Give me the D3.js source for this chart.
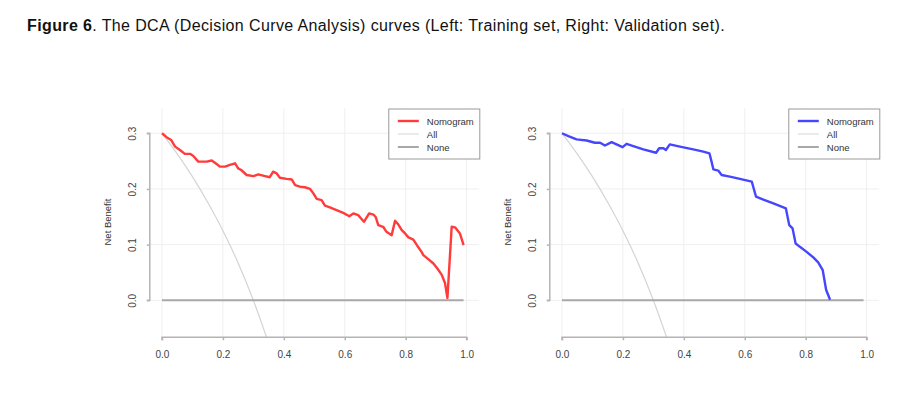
<!DOCTYPE html>
<html>
<head>
<meta charset="utf-8">
<script src="https://cdn.jsdelivr.net/npm/d3@7"></script>
<style>
	body { margin: 0; background: #fff; }
	svg { display: block; font-family: 'Liberation Sans', Arial, sans-serif; }
</style>
</head>
<body>
<svg id="chart" width="920" height="394"></svg>
<script>
// threshold probability / net benefit
const trainX = [0, 0.015, 0.03, 0.043, 0.059, 0.075, 0.092, 0.103, 0.119, 0.136, 0.147, 0.163, 0.174, 0.19, 0.207,
	0.223, 0.24, 0.25, 0.26, 0.278, 0.3, 0.316, 0.338, 0.354, 0.365, 0.376, 0.387, 0.409, 0.426, 0.437, 0.453,
	0.469, 0.486, 0.497, 0.508, 0.524, 0.535, 0.551, 0.573, 0.595, 0.615, 0.628, 0.644, 0.655, 0.663, 0.67,
	0.68, 0.694, 0.702, 0.71, 0.726, 0.737, 0.754, 0.765, 0.776, 0.787, 0.798, 0.809, 0.825, 0.838, 0.852,
	0.858, 0.874, 0.891, 0.904, 0.918, 0.929, 0.937, 0.951, 0.962, 0.978, 0.99];
const trainNB = [0.300, 0.293, 0.288, 0.276, 0.270, 0.263, 0.263, 0.259, 0.249, 0.249, 0.249, 0.251, 0.247, 0.240, 0.240,
	0.243, 0.246, 0.237, 0.234, 0.225, 0.223, 0.226, 0.223, 0.221, 0.231, 0.228, 0.220, 0.218, 0.217, 0.207, 0.204,
	0.203, 0.200, 0.192, 0.182, 0.180, 0.170, 0.167, 0.162, 0.157, 0.151, 0.156, 0.153, 0.146, 0.141, 0.147,
	0.156, 0.154, 0.149, 0.135, 0.132, 0.123, 0.117, 0.143, 0.136, 0.126, 0.120, 0.113, 0.109, 0.098, 0.087,
	0.081, 0.074, 0.066, 0.057, 0.046, 0.031, 0.004, 0.132, 0.131, 0.120, 0.099];

const validX = [0, 0.021, 0.048, 0.081, 0.108, 0.125, 0.141, 0.163, 0.179, 0.199, 0.212, 0.234, 0.267, 0.309, 0.319,
	0.333, 0.341, 0.354, 0.387, 0.431, 0.464, 0.484, 0.491, 0.497, 0.513, 0.524, 0.551, 0.584, 0.623, 0.637,
	0.661, 0.694, 0.735, 0.746, 0.757, 0.767, 0.781, 0.803, 0.825, 0.841, 0.856, 0.867, 0.88];
const validNB = [0.300, 0.295, 0.289, 0.287, 0.283, 0.283, 0.278, 0.284, 0.280, 0.275, 0.281, 0.277, 0.271, 0.265, 0.273,
	0.273, 0.270, 0.280, 0.276, 0.271, 0.267, 0.264, 0.249, 0.235, 0.233, 0.225, 0.222, 0.218, 0.213, 0.186,
	0.181, 0.174, 0.165, 0.135, 0.129, 0.102, 0.096, 0.087, 0.077, 0.068, 0.054, 0.019, 0.001];

// "treat all" reference curve (same in both panels)
const allX = [0, 0.05, 0.1, 0.15, 0.2, 0.25, 0.3, 0.35];
const allNB = [0.300, 0.263, 0.222, 0.176, 0.125, 0.067, 0.000, -0.077];

const noneX = [0, 0.99];
const noneNB = [0, 0];

const xTicks = [0, 0.2, 0.4, 0.6, 0.8, 1.0];
const yTicks = [0, 0.1, 0.2, 0.3];
const legendLabels = ['Nomogram', 'All', 'None'];

const panels = [
	{id: 'train', left: 149.8, x: trainX, y: trainNB, color: '#ff3b3b'},
	{id: 'valid', left: 549.8, x: validX, y: validNB, color: '#4646ff'}
];

const svg = d3.select('#chart');

svg.append('text')
	.attr('x', 27)
	.attr('y', 31)
	.style('font-size', '16px')
	.style('letter-spacing', '0.38px')
	.style('fill', '#111')
	.call(t => t.append('tspan').style('font-weight', 'bold').text('Figure 6'))
	.call(t => t.append('tspan').text('. The DCA (Decision Curve Analysis) curves (Left: Training set, Right: Validation set).'));

const toPairs = (xs, ys) => xs.map((v, i) => [v, ys[i]]);

panels.forEach(p => {
	const x = d3.scaleLinear().domain([-0.04, 1.04]).range([p.left, p.left + 329]),
		y = d3.scaleLinear().domain([-0.0665, 0.345]).range([337.3, 108.2]),
		g = svg.append('g'),
		line = d3.line().x(d => x(d[0])).y(d => y(d[1]));

	g.append('clipPath').attr('id', 'clip-' + p.id)
		.append('rect')
		.attr('x', x(-0.04)).attr('y', y(0.345))
		.attr('width', x(1.04) - x(-0.04)).attr('height', y(-0.0665) - y(0.345));

	// grid
	g.append('g').selectAll('line').data(xTicks).enter().append('line')
		.attr('x1', d => x(d)).attr('x2', d => x(d))
		.attr('y1', y(0.345)).attr('y2', y(-0.0665))
		.style('stroke', '#efefef');
	g.append('g').selectAll('line').data(yTicks).enter().append('line')
		.attr('x1', x(-0.04)).attr('x2', x(1.04))
		.attr('y1', d => y(d)).attr('y2', d => y(d))
		.style('stroke', '#efefef');

	const plot = g.append('g').attr('clip-path', `url(#clip-${p.id})`);

	plot.append('path').datum(toPairs(allX, allNB))
		.attr('d', line.curve(d3.curveMonotoneX))
		.style('fill', 'none').style('stroke', '#d4d4d4').style('stroke-width', 1.2);

	plot.append('path').datum(toPairs(noneX, noneNB))
		.attr('d', line.curve(d3.curveLinear))
		.style('fill', 'none').style('stroke', '#a8a8a8').style('stroke-width', 2);

	plot.append('path').datum(toPairs(p.x, p.y))
		.attr('d', line.curve(d3.curveLinear))
		.style('fill', 'none').style('stroke', p.color).style('stroke-width', 2.4)
		.style('stroke-linejoin', 'round');

	// axes
	const xAxis = g.append('g')
		.attr('transform', `translate(0,${y(-0.0665)})`)
		.call(d3.axisBottom(x).tickValues(xTicks).tickFormat(d3.format('.1f')).tickSizeOuter(0).tickSize(3).tickPadding(11));
	xAxis.select('.domain').attr('d', `M${x(0)},3V0H${x(1)}V3`);

	const yAxis = g.append('g')
		.attr('transform', `translate(${x(-0.04)},0)`)
		.call(d3.axisLeft(y).tickValues(yTicks).tickFormat(d3.format('.1f')).tickSizeOuter(0).tickSize(3).tickPadding(0));
	yAxis.select('.domain').attr('d', `M-3,${y(0.3)}H0V${y(0)}H-3`);
	yAxis.selectAll('.tick text')
		.attr('x', null).attr('dy', null)
		.attr('text-anchor', 'middle')
		.attr('transform', 'translate(-14,0) rotate(-90)');

	[xAxis, yAxis].forEach(a => {
		a.selectAll('.domain, .tick line').style('stroke', '#b4b4b4').style('stroke-width', 1.5);
		a.selectAll('.tick text').style('fill', '#444').style('font-size', '10px')
			.style('font-family', "'Liberation Sans', Arial, sans-serif");
	});

	g.append('text')
		.attr('transform', `translate(${p.left - 39},222) rotate(-90)`)
		.attr('text-anchor', 'middle')
		.style('font-size', '9.5px')
		.style('fill', '#333')
		.text('Net Benefit');

	// legend
	const lg = g.append('g').attr('transform', `translate(${x(1.04) - 90},109)`);
	lg.append('rect').attr('width', 91).attr('height', 50)
		.style('fill', '#fff').style('stroke', '#9a9a9a').style('stroke-width', 1);
	const legendColors = [p.color, '#dcdcdc', '#a8a8a8'],
		legendWidths = [2.4, 1.2, 2],
		rows = lg.selectAll('.row').data(legendLabels).enter().append('g')
			.attr('transform', (_, i) => `translate(0,${12 + i * 13})`);
	rows.append('line')
		.attr('x1', 9).attr('x2', 30)
		.style('stroke', (_, i) => legendColors[i])
		.style('stroke-width', (_, i) => legendWidths[i]);
	rows.append('text')
		.attr('x', 38).attr('y', 3.5)
		.style('font-size', '9.5px')
		.style('fill', '#333')
		.text(d => d);
});
</script>
</body>
</html>
